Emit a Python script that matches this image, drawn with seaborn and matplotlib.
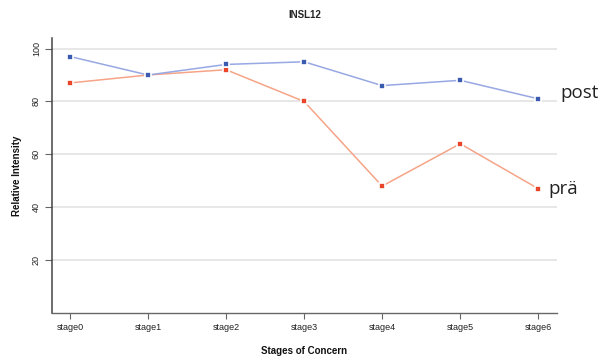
import matplotlib
matplotlib.use("Agg")
import matplotlib.pyplot as plt
import seaborn as sns
import pandas as pd

stages = ["stage0", "stage1", "stage2", "stage3", "stage4", "stage5", "stage6"]
post = [97, 90, 94, 95, 86, 88, 81]
prae = [87, 90, 92, 80, 48, 64, 47]
yticks = [20, 40, 60, 80, 100]

sns.set_theme(style="white")
plt.rcParams['font.family'] = ['Liberation Sans', 'DejaVu Sans']

fig = plt.figure(figsize=(6.01, 3.58), dpi=100)
ax = fig.add_axes([52/601, 1-313/358, (557-52)/601, (313-38)/358])

df = pd.DataFrame({"x": list(range(len(stages))) * 2,
                   "y": post + prae,
                   "s": ["post"] * len(stages) + ["prä"] * len(stages)})

line_cols = {"post": "#97a8e3", "prä": "#f6a488"}
mark_cols = {"post": "#3a5bb0", "prä": "#e8452a"}
for name in ["prä", "post"]:
    sub = df[df.s == name]
    sns.lineplot(data=sub, x="x", y="y", ax=ax, color=line_cols[name], lw=1.1,
                 marker="s", markersize=5, markerfacecolor=mark_cols[name],
                 markeredgecolor="white", markeredgewidth=1.2, legend=False)

ax.set_xlim(-0.23, 6.24)
ax.set_ylim(0, 104)
ax.set_yticks(yticks)
ax.set_yticklabels([str(v) for v in yticks], rotation=90, va="center", fontsize=6.5)
ax.set_xticks(range(len(stages)))
ax.set_xticklabels(stages, fontsize=6.5)
for v in yticks:
    ax.axhline(v, color="#e3e3e3", lw=1.2, zorder=0)
for s in ["top", "right"]:
    ax.spines[s].set_visible(False)
ax.spines["left"].set_color("#444444")
ax.spines["bottom"].set_color("#666666")
ax.spines["left"].set_linewidth(1.1)
ax.spines["bottom"].set_linewidth(1.0)
ax.tick_params(axis="both", bottom=True, left=True, length=4, width=0.8,
               color="#666666", pad=3, labelcolor="#222222")
ax.tick_params(axis="y", length=5)

ax.set_xlabel("Stages of Concern", fontsize=7, labelpad=10, color="#111111", fontweight="semibold")
ax.set_ylabel("Relative Intensity", fontsize=7, labelpad=7, color="#111111", fontweight="semibold")
fig.text(305/601, 1-15/358, "INSL12", fontsize=7, fontweight="bold", ha="center", va="center")

fig.text(560/601, 1-93/358, "post", fontsize=13.5, ha="left", va="center", family=["Open Sans", "DejaVu Sans"], color="#222222")
fig.text(548/601, 1-189/358, "prä", fontsize=13.5, ha="left", va="center", family=["Open Sans", "DejaVu Sans"], color="#222222")

fig.savefig("out.png", dpi=100)
